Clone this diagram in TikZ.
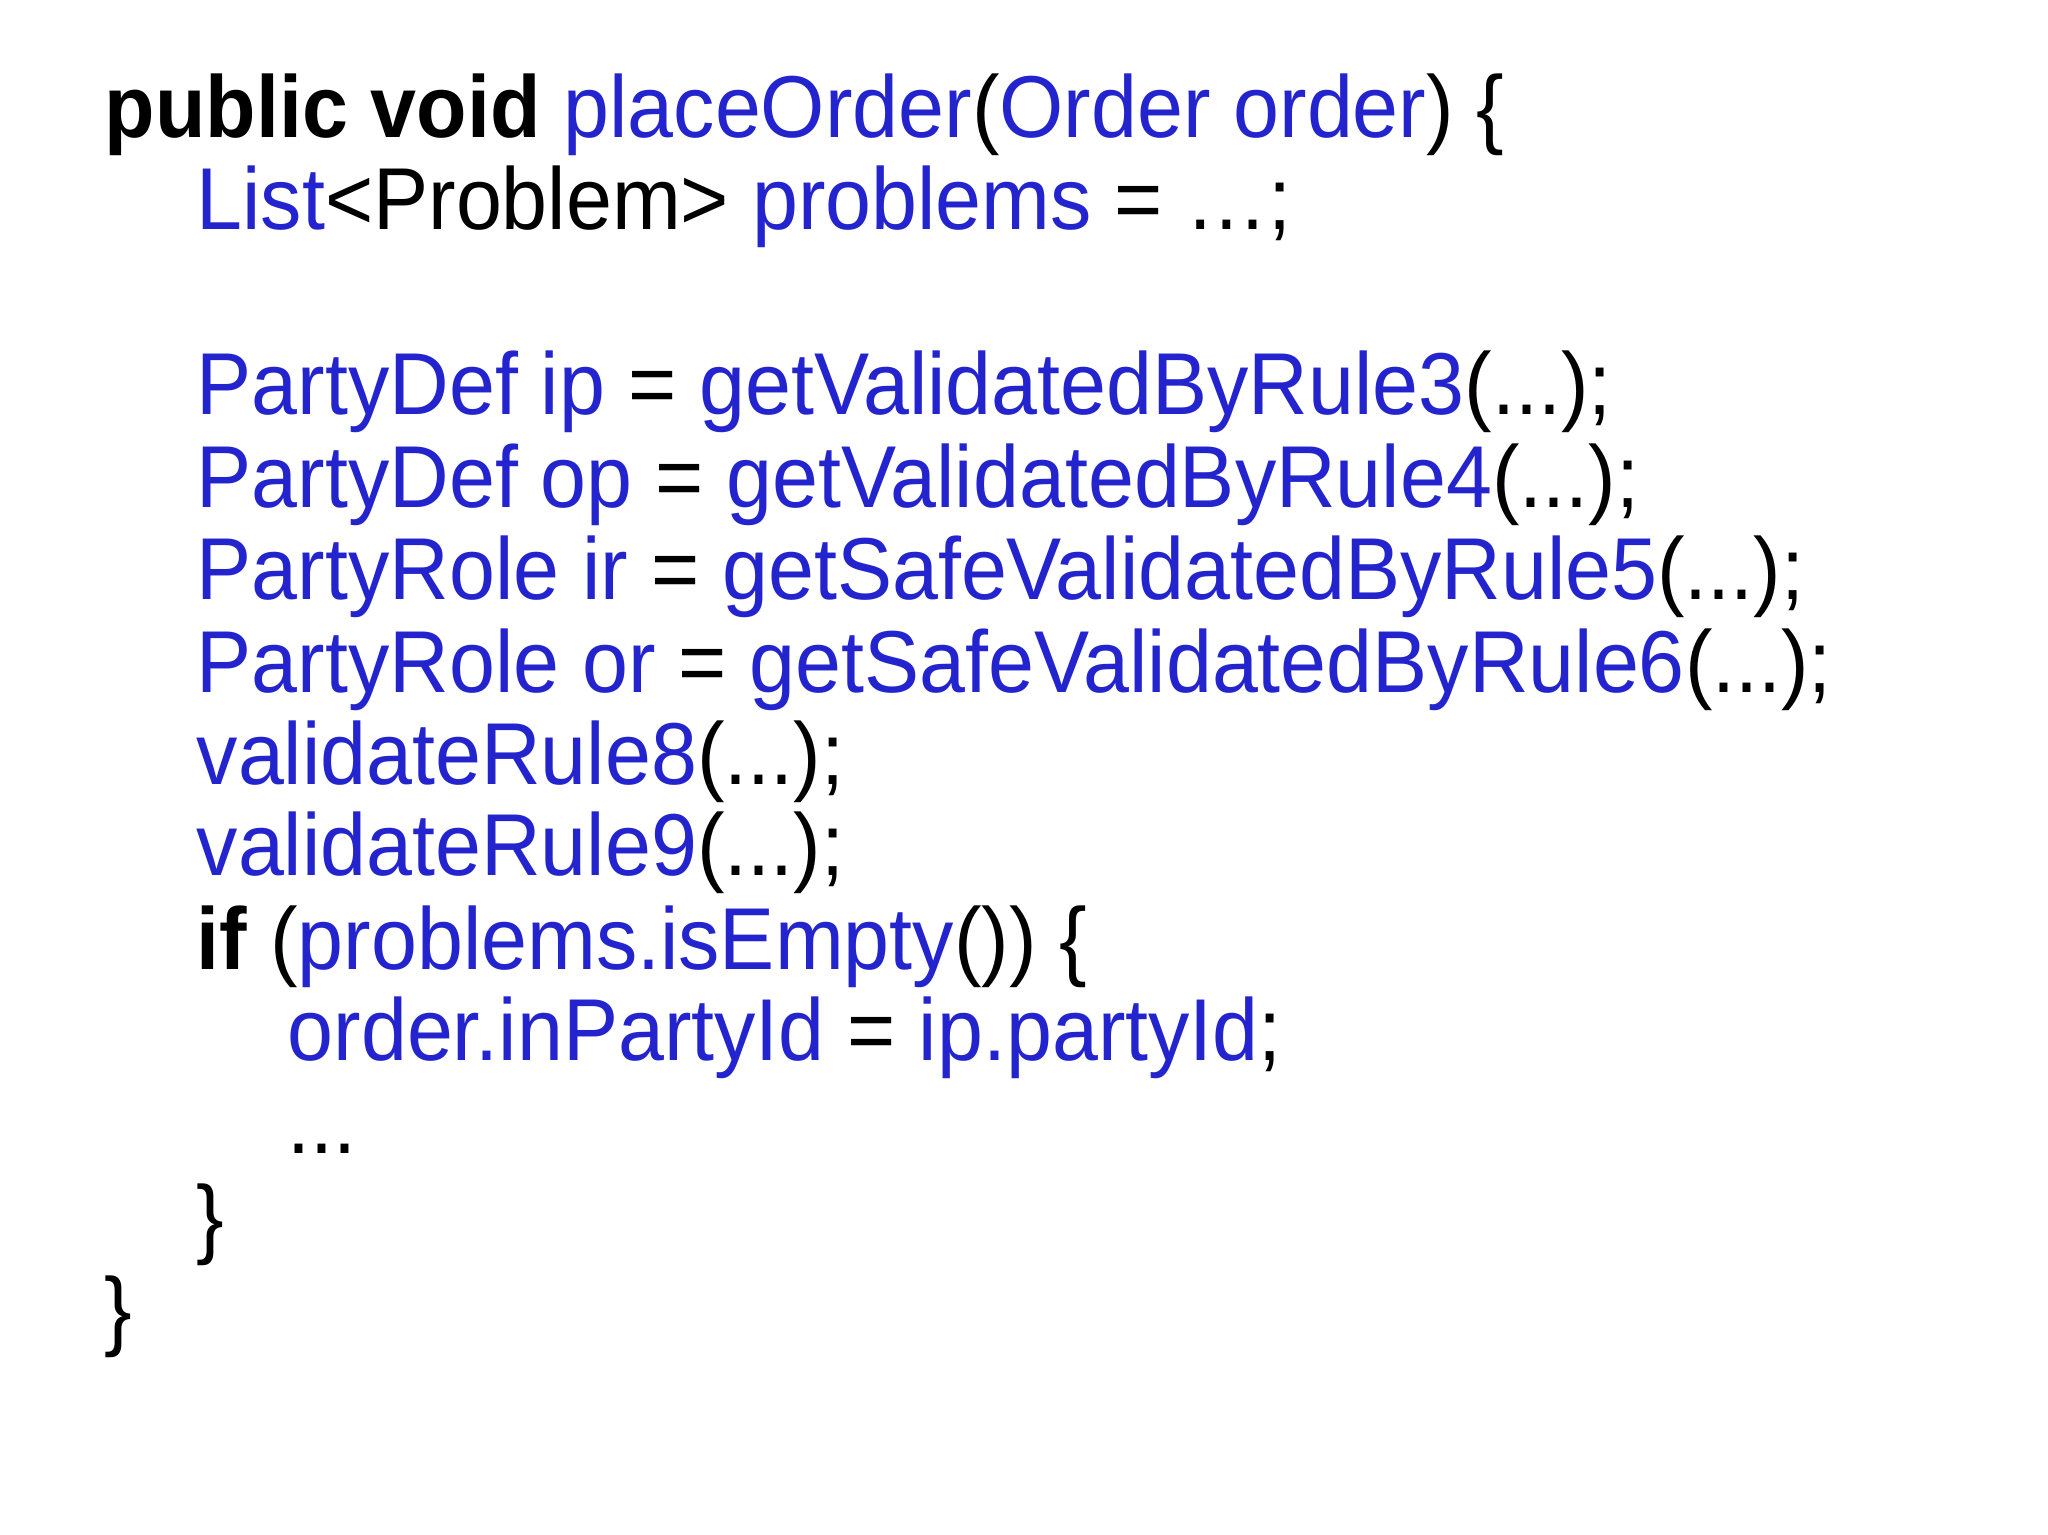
\documentclass[tikz,border=0pt]{standalone}
\usepackage{fontspec}
\setmainfont[FakeStretch=0.94]{Liberation Sans}
\definecolor{kw}{RGB}{36,36,206}
\tikzset{code/.style={anchor=base west,inner sep=0pt,font=\fontsize{25}{30}\selectfont}}
\newcommand{\bl}[1]{\textcolor{kw}{#1}}
\begin{document}
\begin{tikzpicture}[x=1cm,y=1cm]
\useasboundingbox[fill=white] (0,0) rectangle (20.48,-15.35);
\node[code] (l1) at (1.04,-1.37) {\textbf{public void} \bl{placeOrder}(\bl{Order order}) \{};
\node[code] (l2) at (1.96,-2.29) {\bl{List}<Problem> \bl{problems} = …;};
\node[code] (l4) at (1.96,-4.14) {\bl{PartyDef ip} = \bl{getValidatedByRule3}(...);};
\node[code] (l5) at (1.96,-5.07) {\bl{PartyDef op} = \bl{getValidatedByRule4}(...);};
\node[code] (l6) at (1.96,-5.99) {\bl{PartyRole ir} = \bl{getSafeValidatedByRule5}(...);};
\node[code] (l7) at (1.96,-6.92) {\bl{PartyRole or} = \bl{getSafeValidatedByRule6}(...);};
\node[code] (l8) at (1.96,-7.84) {\bl{validateRule8}(...);};
\node[code] (l9) at (1.96,-8.75) {\bl{validateRule9}(...);};
\node[code] (l10) at (1.96,-9.69) {\textbf{if} (\bl{problems.isEmpty}()) \{};
\node[code] (l11) at (2.87,-10.60) {\bl{order.inPartyId} = \bl{ip.partyId};};
\node[code] (l12) at (2.87,-11.53) {...};
\node[code] (l13) at (1.96,-12.47) {\}};
\node[code] (l14) at (1.04,-13.39) {\}};
\end{tikzpicture}
\end{document}
